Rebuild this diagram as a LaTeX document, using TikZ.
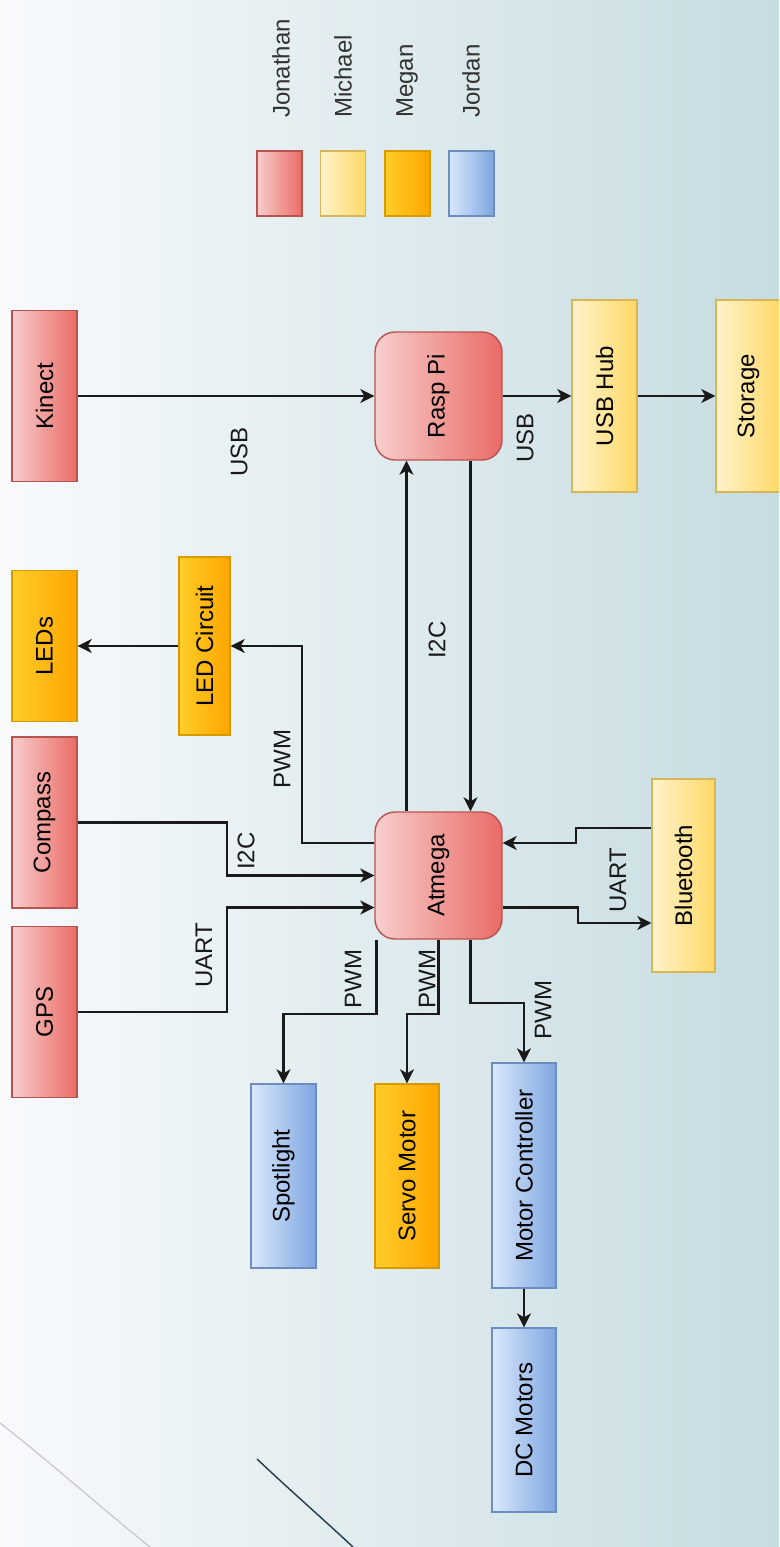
\documentclass[tikz,border=0pt]{standalone}
\usepackage{fontspec}
\setmainfont{Liberation Sans}
\usetikzlibrary{arrows.meta,positioning}
\definecolor{bgleft}{HTML}{F8FAFC}
\definecolor{bgright}{HTML}{C6DCE1}
\definecolor{jonlight}{HTML}{F8CECC}
\definecolor{jondark}{HTML}{EA6B66}
\definecolor{jonline}{HTML}{B85450}
\definecolor{miclight}{HTML}{FFF2CC}
\definecolor{micdark}{HTML}{FFD966}
\definecolor{micline}{HTML}{D6B656}
\definecolor{meglight}{HTML}{FFCD28}
\definecolor{megdark}{HTML}{FFA500}
\definecolor{megline}{HTML}{D79B00}
\definecolor{jorlight}{HTML}{DAE8FC}
\definecolor{jordark}{HTML}{7EA6E0}
\definecolor{jorline}{HTML}{6C8EBF}
\definecolor{wire}{HTML}{1A1A1A}
\definecolor{swoosh}{HTML}{21394C}
\tikzstyle{blk}=[draw, line width=1.4pt, inner sep=0pt, minimum width=65pt,
  font=\fontsize{24}{28}\selectfont]
\tikzstyle{jon}=[blk, left color=jonlight, right color=jondark, draw=jonline]
\tikzstyle{mic}=[blk, left color=miclight, right color=micdark, draw=micline]
\tikzstyle{meg}=[blk, left color=meglight, right color=megdark, draw=megline]
\tikzstyle{jor}=[blk, left color=jorlight, right color=jordark, draw=jorline]
\tikzstyle{chip}=[rounded corners=20pt, minimum width=127pt, minimum height=127pt]
\tikzstyle{conn}=[->, line width=2.2pt, draw=wire]
\tikzstyle{lbl}=[inner sep=0pt, text=black!90, font=\fontsize{24}{28}\selectfont]
\newcommand{\vtext}[1]{\rotatebox{90}{#1}}

\begin{document}
\begin{tikzpicture}[x=1pt, y=-1pt, >={Stealth[length=14pt,width=14pt,inset=4pt]},
  on grid]
  \tikzstyle{key}=[minimum width=45pt, minimum height=65pt]

  \useasboundingbox (0,0) rectangle (779,1547);
  \clip (0,0) rectangle (779,1547);
  \shade[left color=bgleft, right color=bgright] (0,0) rectangle (779,1547);
  \draw[black!22, line width=1.2pt] (0,1423) .. controls (55,1466) and (100,1507) .. (150,1547);
  \draw[swoosh, line width=1.4pt] (257,1459) .. controls (292,1492) and (322,1518) .. (353,1547);

  % legend
  \node[jon, key] (kjon) at (279.5,183.5) {};
  \node[mic, key, right=63.5pt of kjon] (kmic) {};
  \node[meg, key, right=64.5pt of kmic] (kmeg) {};
  \node[jor, key, right=64pt of kmeg] (kjor) {};
  \node[lbl, text=black!80, anchor=south] (njon) at (281,118) {\vtext{Jonathan}};
  \node[lbl, text=black!80, anchor=south] (nmic) at (343,118) {\vtext{Michael}};
  \node[lbl, text=black!80, anchor=south] (nmeg) at (407,118) {\vtext{Megan}};
  \node[lbl, text=black!80, anchor=south] (njor) at (471,118) {\vtext{Jordan}};

  % top row
  \node[jon, minimum height=171pt] (kinect) at (44.5,396) {\vtext{Kinect}};
  \node[jon, chip, minimum height=128pt, right=394pt of kinect] (raspi) {\vtext{Rasp Pi}};
  \node[mic, minimum height=192pt, right=166pt of raspi] (usbhub) {\vtext{USB Hub}};
  \node[mic, minimum height=192pt, right=144pt of usbhub] (storage) {\vtext{Storage}};

  % middle
  \node[meg, minimum height=151pt] (leds) at (44.5,646) {\vtext{LEDs}};
  \node[meg, minimum width=51pt, minimum height=178pt, right=160pt of leds] (ledcirc) {\vtext{LED Circuit}};
  \node[jon, minimum height=171pt] (compass) at (44.5,822.5) {\vtext{Compass}};
  \node[jon, chip, below=479.5pt of raspi] (atmega) {\vtext{Atmega}};
  \node[mic, minimum width=63pt, minimum height=193pt, right=245pt of atmega] (bt) {\vtext{Bluetooth}};
  \node[jon, minimum height=171pt] (gps) at (44.5,1012) {\vtext{GPS}};

  % bottom
  \node[jor, minimum height=184pt] (spot) at (283.5,1176) {\vtext{Spotlight}};
  \node[meg, minimum width=64pt, minimum height=184pt, right=123.5pt of spot] (servo) {\vtext{Servo Motor}};
  \node[jor, minimum width=64pt, minimum height=225pt] (motorc) at (524,1175.5) {\vtext{Motor Controller}};
  \node[jor, minimum width=64pt, minimum height=184pt, below=244.5pt of motorc] (dcm) {\vtext{DC Motors}};

  % USB side
  \draw[conn] (kinect) -- (raspi);
  \draw[conn] (raspi) -- (usbhub);
  \draw[conn] (usbhub) -- (storage);
  \node[lbl] (lusba) at (239,452) {\vtext{USB}};
  \node[lbl] (lusbb) at (525,438) {\vtext{USB}};

  % Atmega <-> Rasp Pi
  \draw[conn] ([xshift=-32pt]atmega.north) -- ([xshift=-32pt]raspi.south);
  \draw[conn] ([xshift=32pt]raspi.south) -- ([xshift=32pt]atmega.north);
  \node[lbl] (li2ca) at (437,640) {\vtext{I2C}};

  % LEDs
  \draw[conn] ([yshift=32.5pt]atmega.west) -- ++(-72,0) |- (ledcirc.east);
  \draw[conn] (ledcirc) -- (leds);
  \node[lbl] (lpwma) at (282,759) {\vtext{PWM}};

  % sensors in
  \draw[conn] (compass.east) -- ++(149,0) |- (atmega.west);
  \draw[conn] (gps.east) -- ++(149,0) |- ([yshift=-32pt]atmega.west);
  \node[lbl] (li2cb) at (246,851) {\vtext{I2C}};
  \node[lbl] (luarta) at (204,955) {\vtext{UART}};

  % bluetooth
  \draw[conn] ([yshift=47.5pt]bt.west) -- ++(-75,0) |- ([yshift=32.5pt]atmega.east);
  \draw[conn] ([yshift=-32pt]atmega.east) -- ++(75,0) |- ([yshift=-47.5pt]bt.west);
  \node[lbl] (luartb) at (618,880) {\vtext{UART}};

  % outputs
  \draw[conn] ([xshift=-62pt]atmega.south) -- ++(0,74) -| (spot.north);
  \draw[conn] (atmega.south) -- ++(0,74) -| (servo.north);
  \draw[conn] ([xshift=32pt]atmega.south) -- ++(0,63) -| (motorc.north);
  \draw[conn] (motorc) -- (dcm);
  \node[lbl] (lpwmb) at (353,979) {\vtext{PWM}};
  \node[lbl] (lpwmc) at (427,979) {\vtext{PWM}};
  \node[lbl] (lpwmd) at (543,1010) {\vtext{PWM}};
\end{tikzpicture}
\end{document}
